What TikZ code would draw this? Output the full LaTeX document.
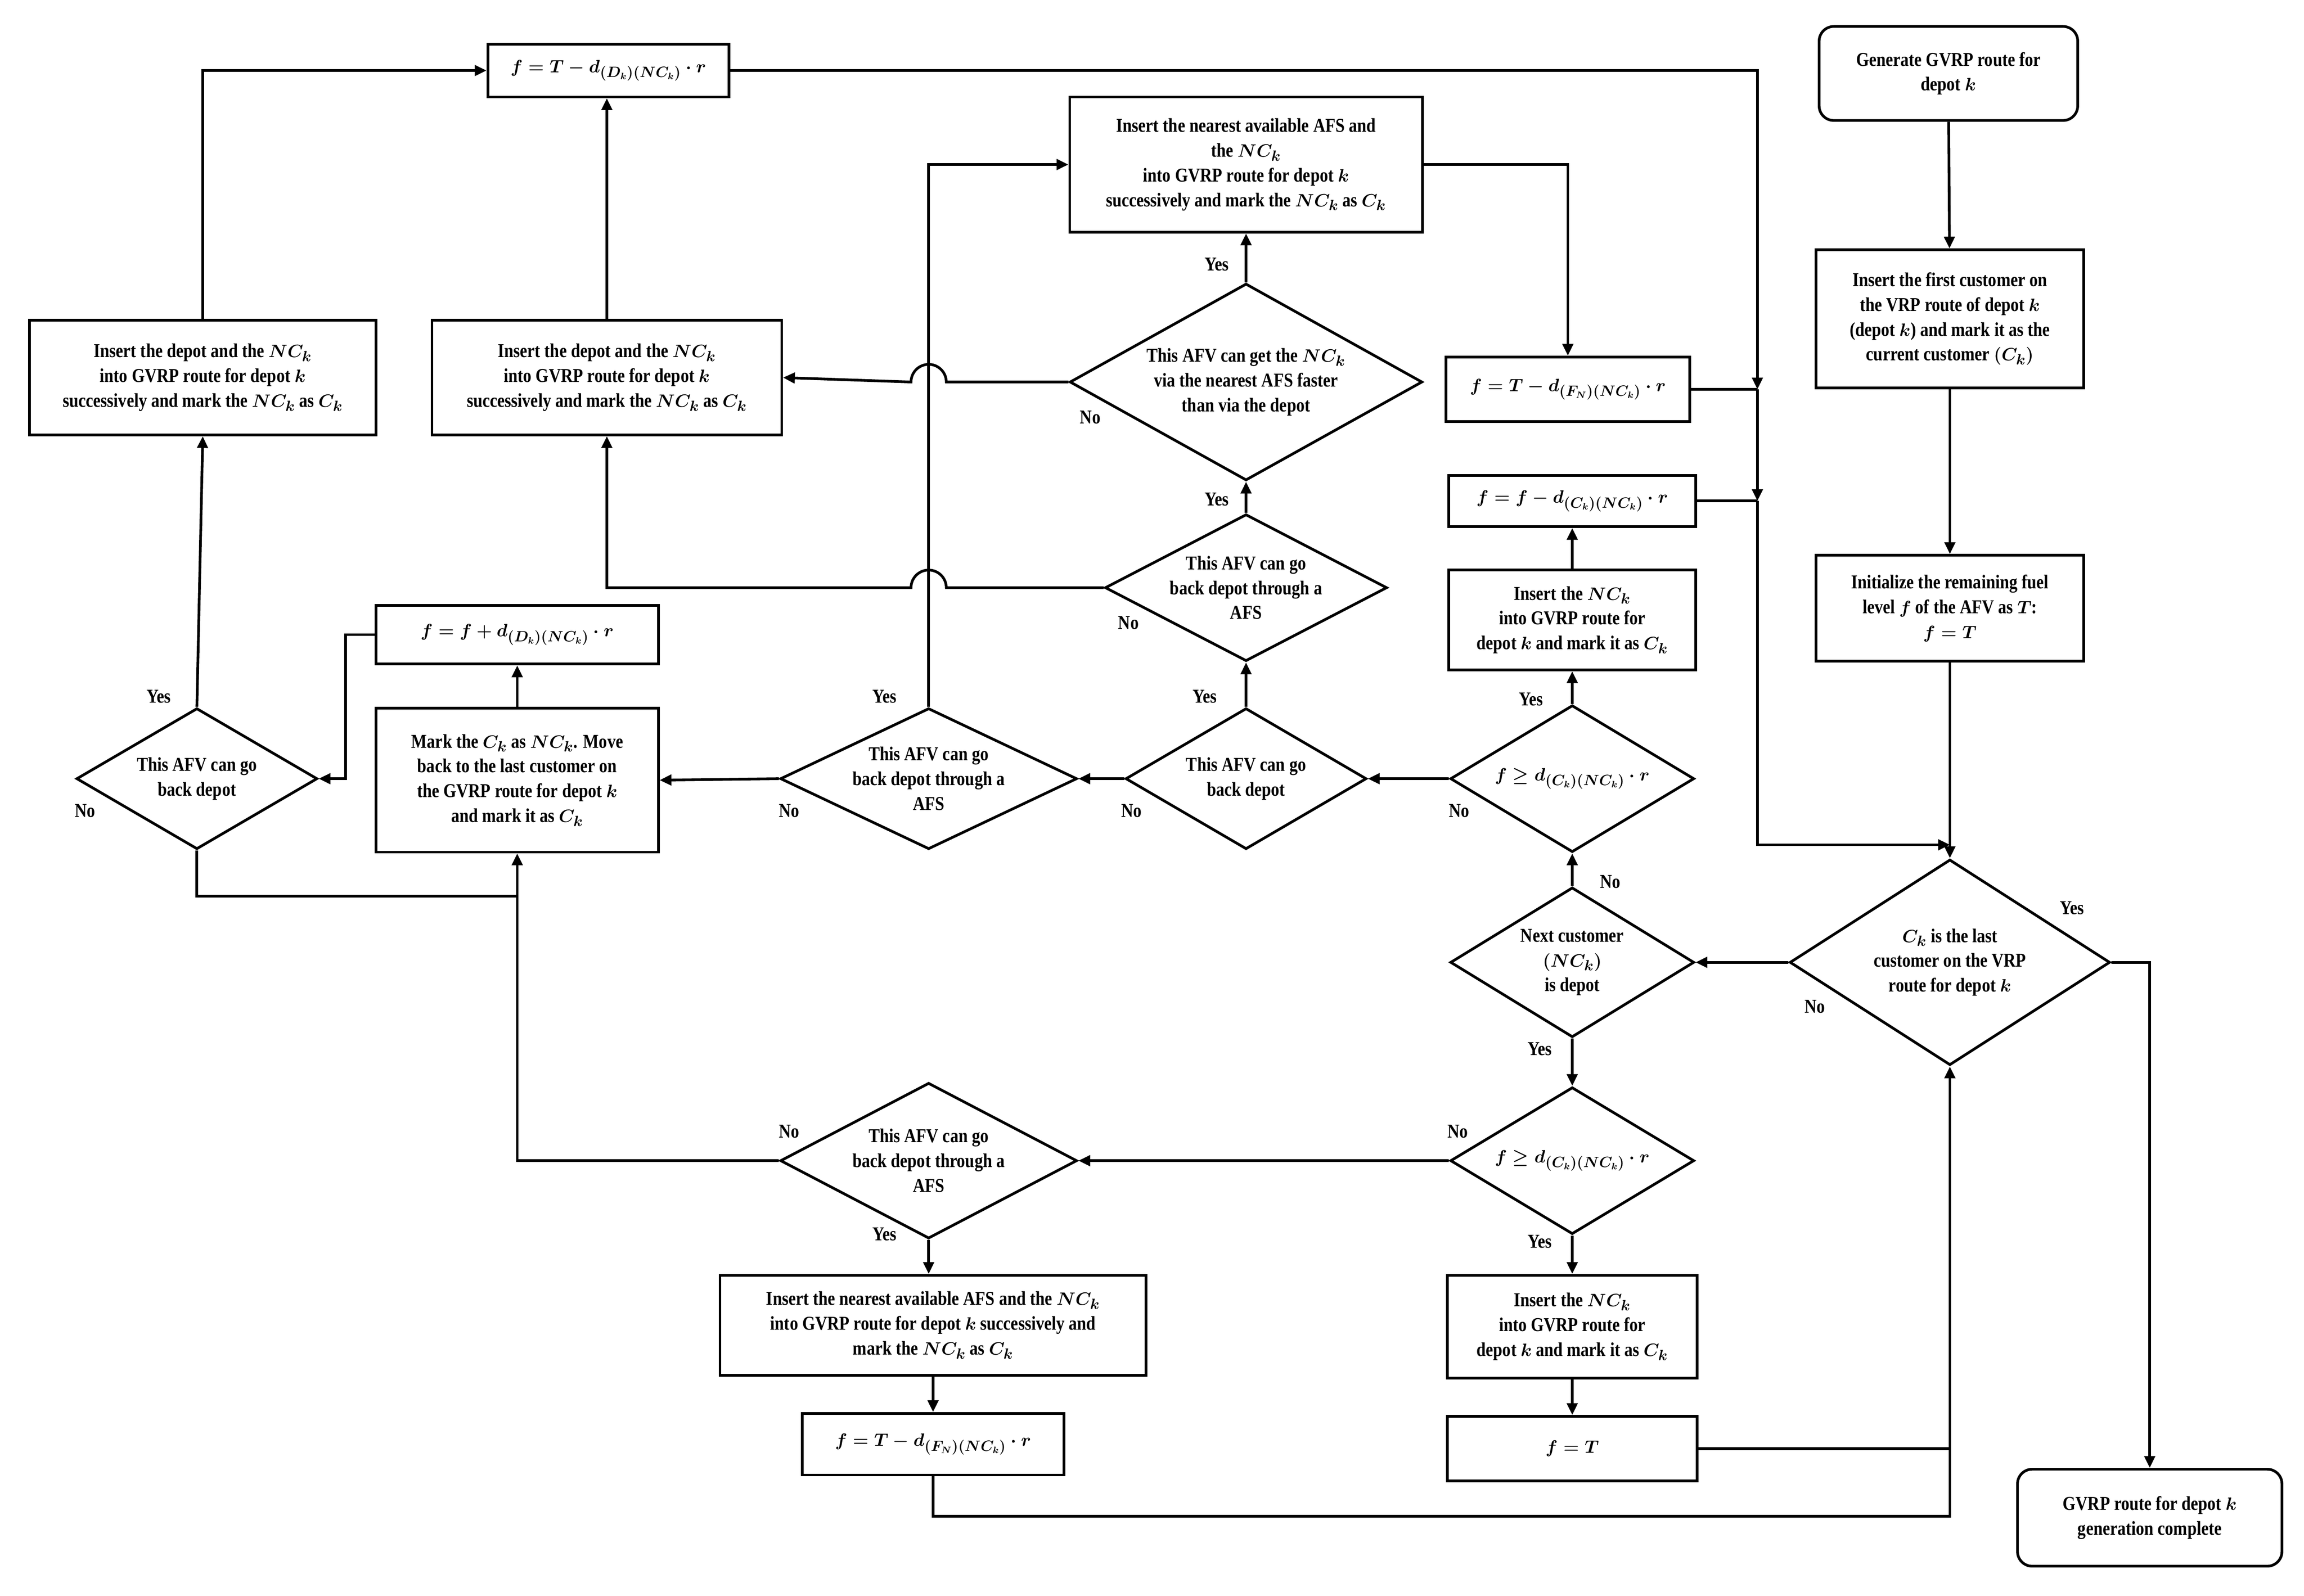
\documentclass[tikz,border=0pt]{standalone}
\usepackage{fontspec}
\usepackage{amsmath,bm}
\setmainfont{Liberation Serif}[FakeStretch=0.85]
\usetikzlibrary{shapes.geometric,arrows.meta,calc}
\begin{document}
\begin{tikzpicture}[x=0.5mm,y=-0.5mm,
  every node/.style={font=\fontsize{19}{24}\selectfont\bfseries\boldmath},
  box/.style 2 args={draw,line width=2.6pt,align=center,inner sep=0pt,minimum width=#1*0.5mm,minimum height=#2*0.5mm},
  rbox/.style 2 args={box={#1}{#2},rounded corners=5mm},
  dia/.style 2 args={draw,diamond,line width=2.6pt,inner sep=0pt,minimum width=#1*0.5mm,minimum height=#2*0.5mm},
  txt/.style={align=center,inner sep=0pt},
  lab/.style={inner sep=0pt},
  arr/.style={line width=2.6pt,-{Triangle[length=4mm,width=3.6mm]}},
  ln/.style={line width=2.6pt}]
\useasboundingbox (0,0) rectangle (1568,1086);
% boxes
\node[rbox={176}{64}] (gen) at (1326,50) {Generate GVRP route for\\depot $k$};
\node[box={182}{94}] (ins1) at (1327,217) {Insert the first customer on\\the VRP route of depot $k$\\(depot $k$) and mark it as the\\current customer $(C_k)$};
\node[box={182}{72}] (init) at (1327,414) {Initialize the remaining fuel\\level $f$ of the AFV as $T$:\\$f=T$};
\node[dia={218}{140}] (dlast) at (1327,655) {};
\node[txt] (tdlast) at (dlast) {$C_k$ is the last\\customer on the VRP\\route for depot $k$};
\node[rbox={180}{66}] (complete) at (1463,1033) {GVRP route for depot $k$\\generation complete};
\node[dia={166}{102}] (dnext) at (1070,655) {};
\node[txt] (tdnext) at (dnext) {Next customer\\$(NC_k)$\\is depot};
\node[dia={166}{100}] (dfge1) at (1070,530) {};
\node[txt] (tdfge1) at (dfge1) {$f\ge d_{(C_k)(NC_k)}\cdot r$};
\node[dia={166}{100}] (dfge2) at (1070,790) {};
\node[txt] (tdfge2) at (dfge2) {$f\ge d_{(C_k)(NC_k)}\cdot r$};
\node[box={168}{68}] (insnc1) at (1070,422) {Insert the $NC_k$\\into GVRP route for\\depot $k$ and mark it as $C_k$};
\node[box={168}{35}] (ffc) at (1070,341) {$f=f-d_{(C_k)(NC_k)}\cdot r$};
\node[box={166}{44}] (ffn) at (1067,265) {$f=T-d_{(F_N)(NC_k)}\cdot r$};
\node[box={240}{92}] (insafs1) at (848,112) {Insert the nearest available AFS and\\the $NC_k$\\into GVRP route for depot $k$\\successively and mark the $NC_k$ as $C_k$};
\node[dia={240}{134}] (dfaster) at (848,260) {};
\node[txt] (tdfaster) at (dfaster) {This AFV can get the $NC_k$\\via the nearest AFS faster\\than via the depot};
\node[dia={192}{100}] (dafs1) at (848,400) {};
\node[txt] (tdafs1) at (dafs1) {This AFV can go\\back depot through a\\AFS};
\node[dia={164}{96}] (ddep1) at (848,530) {};
\node[txt] (tddep1) at (ddep1) {This AFV can go\\back depot};
\node[dia={202}{96}] (dafs2) at (632,530) {};
\node[txt] (tdafs2) at (dafs2) {This AFV can go\\back depot through a\\AFS};
\node[box={192}{98}] (markck) at (352,531) {Mark the $C_k$ as $NC_k$. Move\\back to the last customer on\\the GVRP route for depot $k$\\and mark it as $C_k$};
\node[box={192}{40}] (fplus) at (352,432) {$f=f+d_{(D_k)(NC_k)}\cdot r$};
\node[dia={164}{96}] (ddep2) at (134,530) {};
\node[txt] (tddep2) at (ddep2) {This AFV can go\\back depot};
\node[box={236}{78}] (insdep1) at (138,257) {Insert the depot and the $NC_k$\\into GVRP route for depot $k$\\successively and mark the $NC_k$ as $C_k$};
\node[box={238}{78}] (insdep2) at (413,257) {Insert the depot and the $NC_k$\\into GVRP route for depot $k$\\successively and mark the $NC_k$ as $C_k$};
\node[box={164}{36}] (ftd) at (414,48) {$f=T-d_{(D_k)(NC_k)}\cdot r$};
\node[dia={202}{106}] (dafs3) at (632,790) {};
\node[txt] (tdafs3) at (dafs3) {This AFV can go\\back depot through a\\AFS};
\node[box={290}{68}] (insafs2) at (635,902) {Insert the nearest available AFS and the $NC_k$\\into GVRP route for depot $k$ successively and\\mark the $NC_k$ as $C_k$};
\node[box={178}{42}] (ffn2) at (635,983) {$f=T-d_{(F_N)(NC_k)}\cdot r$};
\node[box={170}{70}] (insnc2) at (1070,903) {Insert the $NC_k$\\into GVRP route for\\depot $k$ and mark it as $C_k$};
\node[box={170}{44}] (fT) at (1070,986) {$f=T$};
% coordinates
\coordinate (c1) at (1196,265);
\coordinate (c2) at (1196,341);
\coordinate (j1) at (1327,575);
\coordinate (c3) at (1327,1032);
% connectors
\draw[arr] (gen) -- (ins1);
\draw[arr] (ins1) -- (init);
\draw[arr] (init) -- (dlast);
\draw[arr] (ftd.east) -| (c1);
\draw[ln] (ffn.east) -- (c1);
\draw[arr] (c1) -- (c2);
\draw[ln] (ffc.east) -- (c2);
\draw[arr] (c2) |- (j1);
\draw[arr] (dlast.east) -| (complete.north);
\draw[arr] (dlast.west) -- (dnext.east);
\draw[arr] (dnext.south) -- (dfge2.north);
\draw[arr] (dnext.north) -- (dfge1.south);
\draw[arr] (dfge1.north) -- (insnc1.south);
\draw[arr] (insnc1.north) -- (ffc.south);
\draw[arr] (dfge1.west) -- (ddep1.east);
\draw[arr] (ddep1.north) -- (dafs1.south);
\draw[arr] (dafs1.north) -- (dfaster.south);
\draw[arr] (dfaster.north) -- (insafs1.south);
\draw[arr] (insafs1.east) -| (ffn.north);
\draw[arr] (dfaster.west) -- ($(dafs2.north |- dfaster.west)+(12,0)$) arc[start angle=0,end angle=180,radius=6mm] -- (insdep2.east);
\draw[arr] (dafs1.west) -- ($(dafs2.north |- dafs1.west)+(12,0)$) arc[start angle=0,end angle=180,radius=6mm] -| (insdep2.south);
\draw[arr] (ddep1.west) -- (dafs2.east);
\draw[arr] (dafs2.west) -- (markck.east);
\draw[arr] (dafs2.north) |- (insafs1.west);
\draw[arr] (markck.north) -- (fplus.south);
\draw[arr] (fplus.west) -- ++(-20,0) |- (ddep2.east);
\draw[arr] (ddep2.north) -- (insdep1.south);
\draw[arr] (insdep1.north) |- (ftd.west);
\draw[arr] (insdep2.north) -- (insdep2.north |- ftd.south);
\draw[ln] (ddep2.south) |- (352,610);
\draw[arr] (dafs3.west) -| (markck.south);
\draw[arr] (dfge2.west) -- (dafs3.east);
\draw[arr] (dafs3.south) -- (dafs3.south |- insafs2.north);
\draw[arr] (insafs2.south) -- (insafs2.south |- ffn2.north);
\draw[arr] (ffn2.south) |- (c3) -- (dlast.south);
\draw[ln] (fT.east) -- (fT.east -| dlast.south);
\draw[arr] (dfge2.south) -- (insnc2.north);
\draw[arr] (insnc2.south) -- (fT.north);
% labels
\node[lab] (l1) at (1410,618) {Yes};
\node[lab] (l2) at (1235,685) {No};
\node[lab] (l3) at (1048,714) {Yes};
\node[lab] (l4) at (1096,600) {No};
\node[lab] (l5) at (1042,476) {Yes};
\node[lab] (l6) at (993,552) {No};
\node[lab] (l7) at (820,474) {Yes};
\node[lab] (l8) at (770,552) {No};
\node[lab] (l9) at (828,340) {Yes};
\node[lab] (l10) at (768,424) {No};
\node[lab] (l11) at (828,180) {Yes};
\node[lab] (l12) at (742,284) {No};
\node[lab] (l13) at (602,474) {Yes};
\node[lab] (l14) at (537,552) {No};
\node[lab] (l15) at (108,474) {Yes};
\node[lab] (l16) at (58,552) {No};
\node[lab] (l17) at (537,770) {No};
\node[lab] (l18) at (602,840) {Yes};
\node[lab] (l19) at (992,770) {No};
\node[lab] (l20) at (1048,845) {Yes};
\end{tikzpicture}
\end{document}
